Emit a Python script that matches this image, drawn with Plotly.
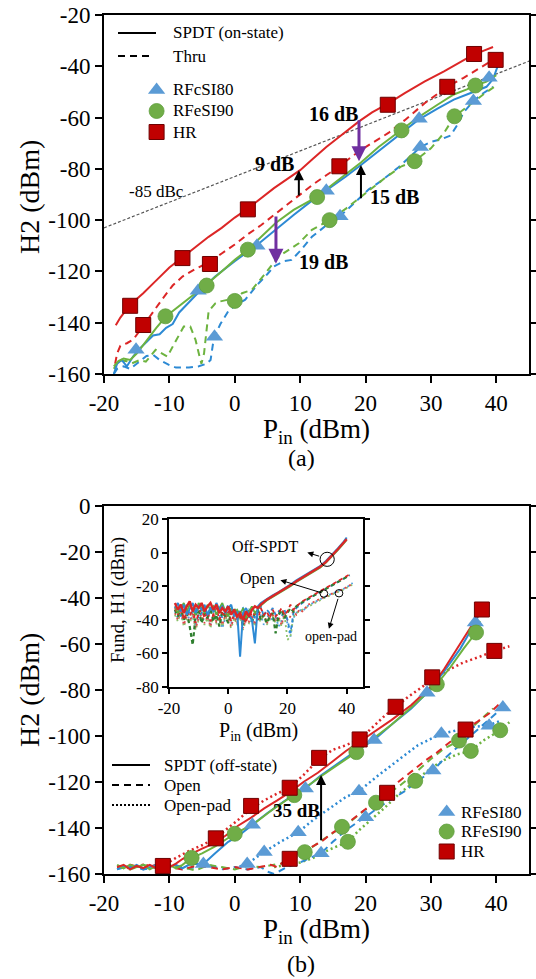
import plotly.graph_objects as go

W, H = 536, 979
FONT = "Liberation Serif, Times New Roman, serif"

# ================= (a) SPDT on-state vs Thru =================
a_hr_on_x = [-18.2, -17.5, -16, -14, -12, -10, -8, -6, -4, -2, 0, 2, 4, 6, 8, 10, 12, 14, 16, 19, 21, 23.5, 26, 29, 32, 34.5, 36.5, 38, 39.5]
a_hr_on_y = [-141, -138, -133, -128.5, -123.5, -118.5, -114.5, -110.5, -106.5, -103, -99, -95.5, -91.5, -87.5, -84, -80.5, -76, -71.5, -67.5, -61.5, -58, -54.5, -50.5, -46, -42, -38.5, -35.5, -34, -32.5]
a_hr_th_x = [-18.3, -18, -17.5, -16.5, -15.5, -14, -12.5, -11, -9.5, -8, -6, -4, -2, 0, 2, 4, 6, 8, 10, 12, 14, 16, 18, 20, 23.5, 26, 29, 32.5, 35, 37.5, 39.5]
a_hr_th_y = [-156, -152, -149, -148, -146.5, -141, -135.5, -130.5, -125.5, -122, -119, -116.5, -113, -109.5, -105.5, -102, -98, -94, -90, -86, -82.5, -79, -75, -71.5, -66, -61, -54.5, -48, -44.5, -40.5, -37.5]
a_b80_on_x = [-18.5, -18, -17.3, -16.5, -15.5, -14.5, -13.5, -12.5, -11.5, -10.5, -9.5, -8.5, -7, -5.5, -3, 0, 3.5, 6.3, 9, 12, 14, 17, 19.3, 22, 25, 28, 31, 33.5, 35.5, 37, 38.5, 39.5, 40.2]
a_b80_on_y = [-160, -156, -154.5, -157, -153, -150, -147.5, -145, -144.5, -142, -140.5, -136, -132, -128, -122, -116, -109.5, -103.5, -98, -92, -88.5, -83, -78.5, -73, -67, -61, -56.5, -53, -51, -49.5, -48, -45, -40]
a_g90_on_x = [-18.5, -17.8, -17, -16, -15, -13.5, -12, -10.5, -9, -7, -4.5, -2, 0, 2, 4, 6.3, 9, 12.5, 15, 17, 19.3, 22, 25.5, 28, 31, 33.5, 35.5, 36.8, 38.5, 40]
a_g90_on_y = [-157, -155, -154, -154.5, -152, -147, -142, -137.5, -134.5, -130.5, -125.5, -120, -115.5, -111.5, -106.5, -101, -96, -91, -86, -82, -77.5, -71.5, -65, -60, -55, -51, -49, -47.5, -46, -43.5]
a_b80_th_x = [-18.5, -18, -17, -16, -15, -13.5, -12.5, -11.5, -10, -9, -7, -5.5, -4.3, -3.7, -3.2, -2.2, -1, 0, 1.6, 3.7, 5, 6, 7.5, 8.7, 10, 11.8, 14, 16.1, 18, 20.5, 22.5, 25, 28.4, 30, 31.5, 33, 34, 35, 36.5, 38, 39.5]
a_b80_th_y = [-160, -158, -157, -158, -156, -153, -152.5, -154.5, -156.5, -157.5, -157.5, -157, -156, -154.5, -146, -140.5, -135.5, -133.5, -131, -124.5, -121, -118, -116, -115.5, -112, -106.5, -102, -98.5, -94, -88, -84.5, -79.5, -71.5, -69.5, -68.5, -67, -63, -58, -53.5, -50.5, -48]
a_g90_th_x = [-18.5, -17.7, -16.5, -15.7, -14.5, -13.6, -12.1, -11, -10.3, -9, -7.8, -6.8, -6, -5.5, -5.1, -4.7, -4.5, -4, -3, -2.4, -1, 0, 1.1, 2.6, 4.7, 6.7, 9.8, 11.8, 14.5, 17, 20, 23, 25.5, 27.5, 30, 32, 33.6, 35, 36.5, 38, 40]
a_g90_th_y = [-158, -154.5, -155, -155.8, -154.5, -155.2, -150.6, -152, -153.2, -147, -141.5, -141.5, -146.7, -152, -156, -152, -146.7, -135.5, -132.5, -131.8, -131, -131.5, -128.5, -127.2, -120.7, -114.2, -109, -103.8, -100, -95.5, -89.5, -83.5, -79, -77, -72, -66, -59.5, -57, -54, -51, -47.5]
a_ref_x = [-20, 45]
a_ref_y = [-103, -38]

a_hr_mk_x = [-16, -14, -8, -3.8, 2, 16, 23.4, 32.5, 36.6, 39.9]
a_hr_mk_y = [-133.4, -140.9, -114.8, -117.1, -95.8, -79, -55, -48, -35.2, -37.5]
a_b80_mk_x = [-15.1, -5.6, -3.1, 3.4, 14, 16.1, 28.2, 28.4, 36.5, 38.9]
a_b80_mk_y = [-150.5, -127.5, -145.5, -110, -88.5, -98.5, -60.5, -71.5, -53.5, -44.5]
a_g90_mk_x = [-10.6, -4.3, 0, 2, 12.6, 14.5, 25.5, 27.5, 33.6, 36.8]
a_g90_mk_y = [-137.5, -125.5, -131.5, -111.5, -91, -100, -65, -77, -59.5, -47.5]

# ================= (b) SPDT off-state / Open / Open-pad =================
b_hr_sp_x = [-18, -17, -16, -15, -14, -13, -12, -11, -10, -9, -8, -6.5, -5, -3, -1, 0.5, 2.5, 4.5, 6.5, 8.4, 10.5, 12.7, 15, 17, 19.1, 21.5, 24, 27, 30.2, 32, 34, 36, 37.8]
b_hr_sp_y = [-157, -156, -158, -156.5, -157.5, -156, -157.5, -156, -157, -155.5, -153.5, -151, -149, -146.5, -142.5, -139, -135.5, -131.5, -128, -124.5, -120, -116, -111, -106.5, -102.5, -98, -93, -86.5, -78, -71, -62, -53, -45]
b_g90_sp_x = [-18, -17, -16, -15, -14, -13, -12, -11, -10, -9, -8, -6.6, -5, -3, 0, 3, 6, 9.1, 12, 13.2, 15, 18.6, 21, 24, 27, 30.9, 33, 35, 36.9, 37.5]
b_g90_sp_y = [-156, -157.5, -156, -157, -156, -158, -156.5, -157, -156, -157.5, -156, -153, -151, -148, -142.5, -138, -131.5, -125.7, -120, -117.5, -114, -107, -101.5, -95, -87.5, -77.5, -70, -62, -55, -50]
b_b80_sp_x = [-18, -17, -16, -15, -14, -13, -12, -11, -10, -9, -8, -7, -6, -4.8, -3, -1, 0.5, 2.7, 5, 7, 9, 10.8, 13, 15, 18, 21.3, 24, 27, 29.4, 32, 34.5, 36.8, 37.5]
b_b80_sp_y = [-158, -156.5, -157.5, -156, -158, -157, -156, -158, -157, -156, -157.5, -156, -155.5, -155.6, -151, -146, -143.5, -138.6, -133.5, -129.5, -125.5, -122.8, -117.5, -113.5, -107.5, -101.7, -95, -88, -81.2, -72, -62, -50.6, -46]
b_hr_op_x = [-18, -16, -14, -12, -10, -8, -6, -4, -2, 0, 2, 4, 5.5, 6.5, 7.5, 8.4, 10, 12, 13.2, 15, 17, 19, 21, 23.3, 25, 27, 29, 31, 33, 35.3, 37, 39, 40.5]
b_hr_op_y = [-157, -156, -157.5, -156, -157, -158, -156.5, -157, -158, -157, -158, -157, -156, -157, -154.5, -153.4, -151, -148, -146, -142, -138.5, -134, -129.5, -124.7, -120, -115.5, -111, -107, -102.5, -97.2, -94, -90, -86]
b_b80_op_x = [-18, -16, -14, -12, -10, -8, -6, -4, -2, 0, 2, 4, 5, 6, 8, 10, 11.5, 13.2, 15, 17, 18.5, 20, 22, 24, 26, 28, 30.3, 32, 34, 36, 38, 40, 41]
b_b80_op_y = [-158, -156.5, -158, -157, -156, -158, -157, -156, -158, -157, -158, -157, -159, -160, -157, -155, -153, -151, -146, -141, -138, -135.3, -131, -127.5, -124, -119.5, -115, -110, -105, -100, -95, -90, -87.6]
b_g90_op_x = [-18, -16, -14, -12, -10, -8, -6, -4, -2, 0, 2, 4, 6, 8, 9.5, 10.7, 12.5, 14.5, 16.4, 18, 19.5, 21.6, 23.5, 25.5, 28, 30, 32, 34.3, 36, 38, 39.5]
b_g90_op_y = [-157, -158, -156, -157.5, -156, -157, -158.5, -156, -157, -158, -156.5, -157, -156, -155, -152.5, -150.5, -147, -143, -139.5, -136.5, -133, -129, -125, -121, -115, -110, -105.5, -102, -97, -92, -88]
b_hr_pd_x = [-18, -16, -14, -12, -11, -9, -7, -5, -3, -1, 0.5, 2.5, 4.5, 6.5, 8.4, 10.5, 12.9, 15, 17, 19.1, 21, 23, 24.6, 26.5, 28.5, 30.2, 32.5, 35, 37.5, 39.7, 42]
b_hr_pd_y = [-156.5, -157.5, -156, -157, -156.5, -153, -150, -147.5, -144.5, -140, -136.5, -131.5, -128, -125, -122.5, -117, -110, -106, -104, -101.5, -96.5, -91, -87.5, -83, -79, -75.5, -71.5, -68, -65.5, -63, -61]
b_b80_pd_x = [0, 1.9, 4.5, 7, 9.7, 12, 14.5, 17, 19, 22, 25, 28, 31.6, 34, 36.5, 38.8, 40.5]
b_b80_pd_y = [-157.5, -155.6, -150.4, -146, -141.8, -136.5, -131.5, -126.5, -124, -117, -110.5, -104, -99, -97.5, -96, -95.5, -93.5]
b_g90_pd_x = [6, 8, 10, 12, 14, 16, 17.3, 19, 21, 23, 25, 27.6, 30, 32, 34, 36.1, 38, 40.6, 42]
b_g90_pd_y = [-157, -156, -155, -153, -150, -147.5, -146, -141, -136, -131, -125.5, -119.5, -114, -110.5, -108, -106.5, -102, -97.5, -94]

b_hr_mk_x = [-11, -2.9, 2.5, 8.4, 8.4, 12.9, 19.1, 23.3, 24.6, 30.2, 35.3, 37.8, 39.7]
b_hr_mk_y = [-156.5, -144.5, -130.4, -122.5, -153.4, -109.5, -101.5, -124.7, -87.3, -74.5, -97.2, -45, -63]
b_b80_mk_x = [-4.8, 1.9, 2.7, 4.5, 9.7, 10.8, 13.2, 19, 20, 21.3, 29.4, 30.3, 31.6, 36.8, 38.9, 41]
b_b80_mk_y = [-155.6, -155.6, -138.6, -150.4, -141.8, -122.8, -151, -124, -135.3, -101.7, -81.2, -115, -99, -50.6, -95.5, -87.6]
b_g90_mk_x = [-6.6, 0, 9.1, 10.7, 16.4, 17.3, 18.6, 21.6, 27.6, 30.9, 34.3, 36.1, 36.9, 40.6]
b_g90_mk_y = [-153, -142.5, -125.7, -150.5, -139.5, -146, -107, -129, -119.5, -77.5, -102, -106.5, -55, -97.5]

# ================= inset: fundamental H1 =================
i_sp_x = [-18, -17, -16, -15, -14, -13, -12, -11, -10, -9, -8, -7, -6, -5, -4, -3, -2, -1, 0, 1, 2, 3, 4, 5, 6, 7, 8, 9, 10,
          11, 13, 15, 17, 19, 21, 23, 25, 27, 29, 31, 33, 35, 37, 39, 40]
i_hr_sp_y = [-30, -34, -31, -36, -32, -29, -35, -31, -33, -30, -35, -32, -30, -34, -31, -36, -33, -35, -32, -37, -34, -38, -36, -40, -35, -38, -34, -32, -33,
             -31, -28, -26, -24, -22, -19.5, -17, -15, -13, -11, -8.5, -5.5, -2, 2, 6, 8]
i_b80_sp_y = [-33, -30, -35, -31, -37, -33, -30, -36, -32, -34, -31, -37, -33, -35, -30, -34, -32, -36, -33, -31, -38, -35, -62, -36, -33, -37, -40, -54, -32,
              -30, -27.5, -25.5, -23.5, -21.5, -19, -16.5, -14.5, -12.5, -10.5, -8, -5, -1.5, 2.5, 6.5, 9]
i_g90_sp_y = [-32, -36, -33, -30, -35, -31, -34, -37, -30, -33, -36, -31, -34, -32, -37, -33, -30, -35, -38, -33, -36, -34, -37, -33, -39, -35, -32, -36, -34,
              -31.5, -28.5, -26.5, -24.5, -22.5, -20, -17.5, -15.5, -13.5, -11.5, -9, -6, -2.5, 1.5, 5.5, 7.5]
i_op_x = [-18, -17, -16, -15, -14, -13, -12, -11, -10, -9, -8, -7, -6, -5, -4, -3, -2, -1, 0, 1, 2, 3, 4, 5, 6, 7, 8, 9, 10,
          11, 12, 13, 14, 15, 16, 17, 18, 19, 20, 21, 22, 23,
          25, 27, 29, 31, 33, 35, 37, 39, 41]
i_hr_op_y = [-33, -37, -31, -40, -35, -38, -33, -42, -36, -34, -39, -35, -41, -37, -33, -40, -36, -38, -34, -41, -37, -35, -39, -36, -42, -34, -38, -36, -40, -33,
             -37, -35, -39, -34, -38, -36, -33, -37, -35, -31, -34, -32,
             -29, -27, -25, -23.5, -21.5, -19.5, -17.5, -15, -13]
i_b80_op_y = [-35, -32, -38, -34, -31, -37, -35, -33, -39, -36, -32, -38, -35, -34, -37, -33, -39, -35, -31, -36, -34, -38, -35, -33, -37, -34, -36, -39, -35, -32,
              -38, -34, -36, -33, -37, -35, -38, -34, -40, -48, -36, -33,
              -30, -27.5, -25.5, -23.5, -21.5, -19.5, -17.5, -15.5, -13.5]
i_g90_op_y = [-34, -38, -33, -40, -36, -44, -55, -37, -34, -42, -36, -39, -33, -41, -37, -44, -35, -38, -42, -36, -33, -39, -37, -43, -35, -38, -41, -36, -34, -40,
              -37, -42, -38, -36, -48, -37, -34, -39, -36, -33, -35, -32,
              -29.5, -27.5, -25.5, -24, -22, -20, -18, -15.5, -13.5]
i_pd_x = [-18, -17, -16, -15, -14, -13, -12, -11, -10, -9, -8, -7, -6, -5, -4, -3, -2, -1, 0, 1, 2, 3, 4, 5, 6, 7, 8, 9, 10,
          11, 12, 13, 14, 15, 16, 17, 18, 19, 20, 21, 22, 23, 24, 25,
          27, 29, 31, 33, 35, 37, 39, 41, 42]
i_hr_pd_y = [-36, -40, -34, -43, -38, -41, -36, -45, -39, -37, -42, -38, -44, -36, -41, -39, -43, -37, -40, -44, -38, -42, -36, -45, -39, -41, -37, -43, -38, -40,
             -36, -42, -39, -37, -41, -38, -43, -36, -40, -38, -35, -37, -34, -35,
             -31, -29, -27.5, -26, -24.5, -23, -21.5, -19.5, -18.5]
i_g90_pd_y = [-37, -41, -35, -44, -39, -42, -37, -46, -40, -38, -43, -39, -45, -37, -42, -40, -44, -38, -41, -45, -39, -43, -37, -46, -40, -42, -38, -44, -39, -41,
              -37, -43, -40, -38, -42, -39, -44, -37, -52, -50, -38, -36, -35, -34,
              -32, -30, -28, -26.5, -25, -23.5, -22, -20, -19]
i_b80_pd_y = [-35, -39, -37, -42, -36, -40, -38, -44, -37, -41, -39, -36, -43, -38, -40, -37, -45, -39, -36, -42, -38, -41, -37, -44, -39, -36, -42, -38, -40, -37,
              -43, -39, -36, -41, -38, -44, -40, -37, -42, -50, -39, -36, -34, -35,
              -31.5, -29.5, -27.5, -26, -24.5, -23, -21.5, -19.5, -18]

# ================= tick labels =================
main_xticks = [-20, -10, 0, 10, 20, 30, 40]
main_xlabels = ["-20", "-10", "0", "10", "20", "30", "40"]
a_yticks = [-160, -140, -120, -100, -80, -60, -40, -20]
a_ylabels = ["-160", "-140", "-120", "-100", "-80", "-60", "-40", "-20"]
b_yticks = [-160, -140, -120, -100, -80, -60, -40, -20, 0]
b_ylabels = ["-160", "-140", "-120", "-100", "-80", "-60", "-40", "-20", "0"]
i_xticks = [-20, 0, 20, 40]
i_xlabels = ["-20", "0", "20", "40"]
i_yticks = [-80, -60, -40, -20, 0, 20]
i_ylabels = ["-80", "-60", "-40", "-20", "0", "20"]

# ================= styling =================
RED_L, BLUE_L, GREEN_L = "#DC2626", "#2D8AD4", "#6DB33F"
RED_M, BLUE_M, GREEN_M = "#C00000", "#5B9BD5", "#70AD47"
DASH = "7px,5px"
DOT = "2px,3px"
PURPLE = "#7030A0"


def pxx(x):
    return x / W


def pyy(y):
    return 1 - y / H


fig = go.Figure()


def line(x, y, color, dash="solid", width=2.0, xa="x", ya="y"):
    fig.add_trace(go.Scatter(x=x, y=y, mode="lines", xaxis=xa, yaxis=ya, showlegend=False,
                             hoverinfo="skip", line=dict(color=color, width=width, dash=dash)))


def marks(x, y, symbol, color, lcolor, lwidth, xa="x", ya="y", size=15):
    fig.add_trace(go.Scatter(x=x, y=y, mode="markers", xaxis=xa, yaxis=ya, showlegend=False,
                             hoverinfo="skip",
                             marker=dict(symbol=symbol, size=size, color=color,
                                         line=dict(color=lcolor, width=lwidth))))


# ---- panel (a)
line(a_ref_x, a_ref_y, "#555555", "3px,2px", 1.2)
line(a_b80_th_x, a_b80_th_y, BLUE_L, DASH)
line(a_g90_th_x, a_g90_th_y, GREEN_L, DASH)
line(a_hr_th_x, a_hr_th_y, RED_L, DASH)
line(a_b80_on_x, a_b80_on_y, BLUE_L)
line(a_g90_on_x, a_g90_on_y, GREEN_L)
line(a_hr_on_x, a_hr_on_y, RED_L)
marks(a_b80_mk_x, a_b80_mk_y, "triangle-up", BLUE_M, BLUE_M, 0)
marks(a_g90_mk_x, a_g90_mk_y, "circle", GREEN_M, "#5E9E3C", 0.8)
marks(a_hr_mk_x, a_hr_mk_y, "square", RED_M, "#6E0000", 1)

# ---- panel (b)
X2, Y2 = "x2", "y2"
line(b_b80_pd_x, b_b80_pd_y, BLUE_L, DOT, 2.5, X2, Y2)
line(b_g90_pd_x, b_g90_pd_y, GREEN_L, DOT, 2.5, X2, Y2)
line(b_hr_pd_x, b_hr_pd_y, RED_L, DOT, 2.5, X2, Y2)
line(b_b80_op_x, b_b80_op_y, BLUE_L, DASH, 2, X2, Y2)
line(b_g90_op_x, b_g90_op_y, GREEN_L, DASH, 2, X2, Y2)
line(b_hr_op_x, b_hr_op_y, RED_L, DASH, 2, X2, Y2)
line(b_b80_sp_x, b_b80_sp_y, BLUE_L, "solid", 2, X2, Y2)
line(b_g90_sp_x, b_g90_sp_y, GREEN_L, "solid", 2, X2, Y2)
line(b_hr_sp_x, b_hr_sp_y, RED_L, "solid", 2, X2, Y2)
marks(b_b80_mk_x, b_b80_mk_y, "triangle-up", BLUE_M, BLUE_M, 0, X2, Y2)
marks(b_g90_mk_x, b_g90_mk_y, "circle", GREEN_M, "#5E9E3C", 0.8, X2, Y2)
marks(b_hr_mk_x, b_hr_mk_y, "square", RED_M, "#6E0000", 1, X2, Y2)

# ---- inset
X3, Y3 = "x3", "y3"
line(i_pd_x, i_b80_pd_y, "#4F9FE0", DOT, 1.8, X3, Y3)
line(i_pd_x, i_g90_pd_y, "#8CC06A", DOT, 1.8, X3, Y3)
line(i_pd_x, i_hr_pd_y, "#E04848", DOT, 1.8, X3, Y3)
line(i_op_x, i_b80_op_y, "#2D8AD4", "4px,3px", 1.8, X3, Y3)
line(i_op_x, i_g90_op_y, "#2F7F2F", "4px,3px", 2.2, X3, Y3)
line(i_op_x, i_hr_op_y, "#DC2626", "4px,3px", 1.8, X3, Y3)
line(i_sp_x, i_g90_sp_y, "#5DAE3E", "solid", 1.8, X3, Y3)
line(i_sp_x, i_b80_sp_y, "#2D8AD4", "solid", 2, X3, Y3)
line(i_sp_x, i_hr_sp_y, "#DC2626", "solid", 2.4, X3, Y3)

# ================= axes =================
base = dict(showgrid=False, zeroline=False, showline=True, linecolor="black", linewidth=2,
            ticks="outside", ticklen=7, tickwidth=2, tickcolor="black", automargin=False,
            tickmode="array", tickfont=dict(family=FONT, size=23, color="black"))
inset = dict(base, ticklen=5, tickwidth=1.5, linewidth=1.8,
             tickfont=dict(family=FONT, size=17, color="black"))

fig.update_layout(
    template="none",
    width=W, height=H, autosize=False,
    margin=dict(l=0, r=0, t=0, b=0, pad=0),
    paper_bgcolor="white", plot_bgcolor="white",
    font=dict(family=FONT, color="black"),
    showlegend=False,
    xaxis=dict(base, domain=[pxx(104), pxx(529)], range=[-20, 45],
               tickvals=main_xticks, ticktext=main_xlabels, anchor="y", mirror=True,
               ticklabelstandoff=0),
    yaxis=dict(base, domain=[pyy(374), pyy(15)], range=[-160, -20],
               tickvals=a_yticks, ticktext=a_ylabels, anchor="x", mirror="ticks"),
    xaxis2=dict(base, domain=[pxx(104), pxx(529)], range=[-20, 45],
                tickvals=main_xticks, ticktext=main_xlabels, anchor="y2", mirror=True,
                ticklabelstandoff=0),
    yaxis2=dict(base, domain=[pyy(874), pyy(506)], range=[-160, 0],
                tickvals=b_yticks, ticktext=b_ylabels, anchor="x2", mirror="ticks"),
    xaxis3=dict(inset, domain=[pxx(169), pxx(363)], range=[-20, 45.5],
                tickvals=i_xticks, ticktext=i_xlabels, anchor="y3", mirror=True),
    yaxis3=dict(inset, domain=[pyy(687), pyy(519)], range=[-80, 20],
                tickvals=i_yticks, ticktext=i_ylabels, anchor="x3", mirror="ticks"),
)

# ================= annotations =================
ann = []


def text(t, x, y, size, xref="paper", yref="paper", angle=0, xanchor="center", bold=False, color="black"):
    ann.append(dict(text=("<b>%s</b>" % t) if bold else t, x=x, y=y, xref=xref, yref=yref,
                    showarrow=False, textangle=angle, xanchor=xanchor, yanchor="middle",
                    font=dict(family=FONT, size=size, color=color)))


def arrow(x, y, ax, ay, xref, yref, color="black", width=2, head=2, size=1.0):
    ann.append(dict(text="", x=x, y=y, ax=ax, ay=ay, xref=xref, yref=yref, axref=xref, ayref=yref,
                    showarrow=True, arrowhead=head, arrowsize=size, arrowwidth=width,
                    arrowcolor=color, standoff=0, startstandoff=0))


# axis titles and captions
text("H2 (dBm)", pxx(29), pyy(197), 28, angle=-90)
text("H2 (dBm)", pxx(29), pyy(690), 28, angle=-90)
text("P<sub>in</sub> (dBm)", pxx(316), pyy(431), 27)
text("P<sub>in</sub> (dBm)", pxx(316), pyy(931), 27)
text("(a)", pxx(301), pyy(458), 24)
text("(b)", pxx(301), pyy(964), 24)
text("Fund, H1 (dBm)", pxx(118), pyy(600), 19, angle=-90)
text("P<sub>in</sub> (dBm)", pxx(258), pyy(731), 20)

# panel (a) annotations
text("-85 dBc", -12, -89, 17, "x", "y")
text("9 dB", 6, -78, 20, "x", "y", bold=True)
text("16 dB", 15.1, -58.5, 20, "x", "y", bold=True)
text("15 dB", 24.5, -91, 20, "x", "y", bold=True)
text("19 dB", 13.5, -116.5, 20, "x", "y", bold=True)
arrow(9.8, -80.5, 9.8, -91, "x", "y")
arrow(19.3, -78.5, 19.3, -92, "x", "y")
arrow(19, -77, 19, -60.5, "x", "y", PURPLE, 3)
arrow(6.3, -117, 6.3, -98, "x", "y", PURPLE, 3)

# panel (b) annotations
text("35 dB", 9.5, -132.5, 19, "x2", "y2", bold=True)
arrow(13.2, -117, 13.2, -146, "x2", "y2")

# inset annotations
text("Off-SPDT", 12.5, 3.6, 16, "x3", "y3")
text("Open", 10, -16, 16, "x3", "y3")
text("open-pad", 34.6, -50, 14, "x3", "y3")
arrow(26.7, 0, 31.2, -2.4, "x3", "y3", width=1, head=2, size=1.2)
arrow(17.6, -16.4, 32.0, -24.2, "x3", "y3", width=1, head=2, size=1.2)
arrow(34.0, -45.4, 37.2, -26.6, "x3", "y3", width=1, head=2, size=1.2)

shapes = []
shapes.append(dict(type="circle", xref="x3", yref="y3", x0=31.0, x1=35.8, y0=-8.2, y1=0.2,
                   line=dict(color="black", width=1)))
shapes.append(dict(type="circle", xref="x3", yref="y3", x0=31.0, x1=33.6, y0=-26.6, y1=-22.2,
                   line=dict(color="black", width=1)))
shapes.append(dict(type="circle", xref="x3", yref="y3", x0=36.1, x1=38.7, y0=-26.4, y1=-22.0,
                   line=dict(color="black", width=1)))


# ================= manual legends =================
def leg_line(x0, x1, y, dash):
    shapes.append(dict(type="line", xref="paper", yref="paper", x0=pxx(x0), x1=pxx(x1),
                       y0=pyy(y), y1=pyy(y), line=dict(color="black", width=2, dash=dash)))


def leg_tri(cx, cy, color):
    p = "M %f,%f L %f,%f L %f,%f Z" % (pxx(cx - 8.66), pyy(cy + 3.75), pxx(cx + 8.66), pyy(cy + 3.75),
                                        pxx(cx), pyy(cy - 7.5))
    shapes.append(dict(type="path", xref="paper", yref="paper", path=p, fillcolor=color,
                       line=dict(width=0)))


def leg_circ(cx, cy, color, lc):
    shapes.append(dict(type="circle", xref="paper", yref="paper", x0=pxx(cx - 7.5), x1=pxx(cx + 7.5),
                       y0=pyy(cy + 7.5), y1=pyy(cy - 7.5), fillcolor=color, line=dict(color=lc, width=0.8)))


def leg_sq(cx, cy, color, lc):
    shapes.append(dict(type="rect", xref="paper", yref="paper", x0=pxx(cx - 7.5), x1=pxx(cx + 7.5),
                       y0=pyy(cy + 7.5), y1=pyy(cy - 7.5), fillcolor=color, line=dict(color=lc, width=1)))


# top legend
leg_line(118, 156, 33, "solid")
leg_line(118, 153, 56, "7px,5px")
text("SPDT (on-state)", pxx(171), pyy(33), 17, xanchor="left")
text("Thru", pxx(171), pyy(56), 17, xanchor="left")
leg_tri(156.6, 90, BLUE_M)
leg_circ(156.6, 111, GREEN_M, "#5E9E3C")
leg_sq(156.6, 132, RED_M, "#6E0000")
text("RFcSI80", pxx(171), pyy(90), 17, xanchor="left")
text("RFeSI90", pxx(171), pyy(111), 17, xanchor="left")
text("HR", pxx(171), pyy(132), 17, xanchor="left")

# bottom legend
leg_line(112, 150, 765, "solid")
leg_line(112, 150, 785, "7px,5px")
leg_line(112, 150, 805, "2px,2px")
text("SPDT (off-state)", pxx(162), pyy(765), 17, xanchor="left")
text("Open", pxx(162), pyy(785), 17, xanchor="left")
text("Open-pad", pxx(162), pyy(805), 17, xanchor="left")
leg_tri(446.7, 812, BLUE_M)
leg_circ(446.7, 831.5, GREEN_M, "#5E9E3C")
leg_sq(446.7, 851.5, RED_M, "#6E0000")
text("RFeSI80", pxx(459), pyy(812), 17, xanchor="left")
text("RFeSI90", pxx(459), pyy(831.5), 17, xanchor="left")
text("HR", pxx(459), pyy(851.5), 17, xanchor="left")

fig.update_layout(annotations=ann, shapes=shapes)
fig.write_html("out.html")
